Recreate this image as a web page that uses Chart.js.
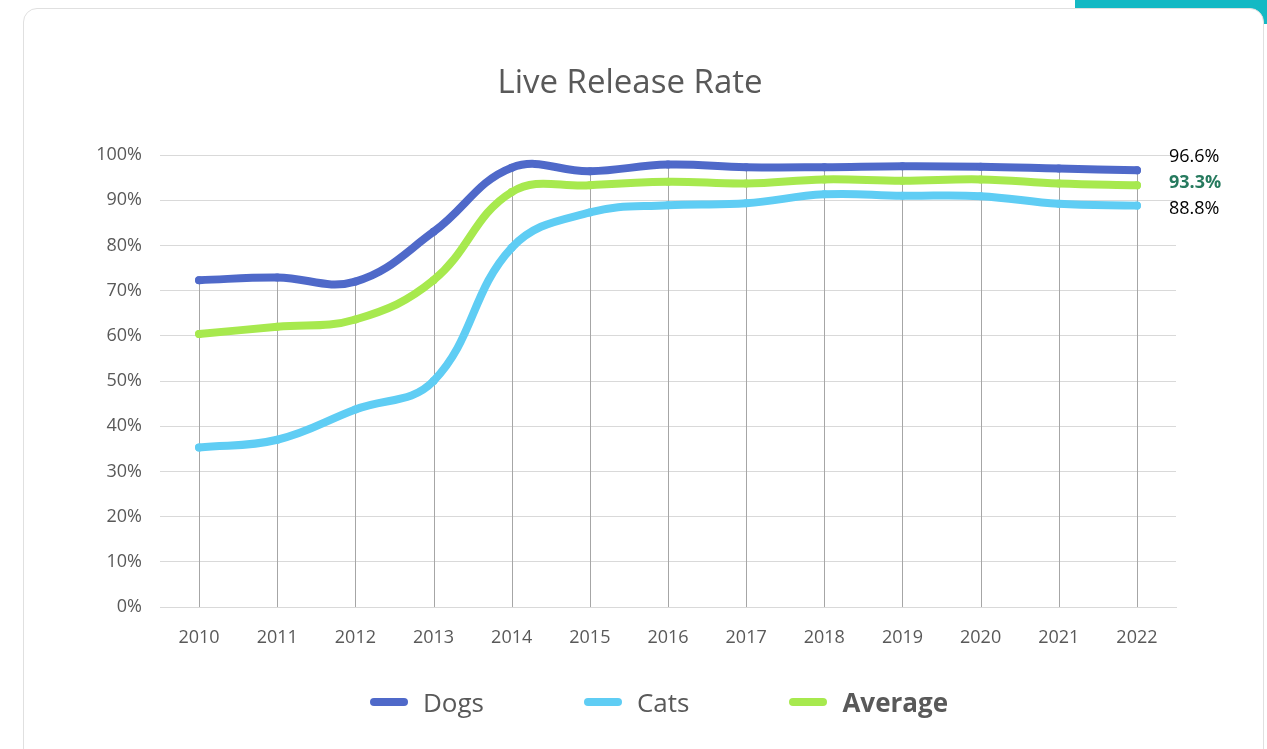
<!DOCTYPE html>
<html>
<head>
<meta charset="utf-8">
<script src="https://cdn.jsdelivr.net/npm/chart.js"></script>
<style>
  html, body { margin: 0; padding: 0; background: #fff; }
  body { width: 1267px; height: 749px; position: relative; overflow: hidden; font-family: "Open Sans", sans-serif; }
  #tab { position: absolute; left: 1075px; top: 0; width: 192px; height: 24px; background: #14b9c4; }
  #card { position: absolute; left: 23px; top: 8px; width: 1241px; height: 780px; background: #fff;
          border: 1.5px solid #e0e0e0; border-radius: 14px; box-sizing: border-box; }
  #wrap { position: absolute; left: 0; top: 0; width: 1267px; height: 749px; }
  #legend { position: absolute; left: 0; top: 684px; width: 1318px; display: flex; justify-content: center;
            gap: 100px; color: #595959; font-size: 26px; }
  .item { display: flex; align-items: center; }
  .sw { width: 38px; height: 8px; border-radius: 4px; margin-right: 15px; }
</style>
</head>
<body>
<div id="tab"></div>
<div id="card"></div>
<div id="wrap"><canvas id="chart"></canvas></div>
<div id="legend"></div>
<script>
// Datos
const years = ['2010', '2011', '2012', '2013', '2014', '2015', '2016', '2017', '2018', '2019', '2020', '2021', '2022'];
const dogs = [72.3, 72.9, 72.0, 83.0, 97.2, 96.4, 97.9, 97.3, 97.3, 97.5, 97.4, 97.0, 96.6];
const cats = [35.3, 37.0, 43.7, 50.0, 79.5, 87.3, 88.9, 89.3, 91.3, 91.0, 90.9, 89.2, 88.8];
const average = [60.4, 62.0, 63.6, 72.3, 91.8, 93.3, 94.1, 93.7, 94.6, 94.3, 94.6, 93.7, 93.3];
const yTicks = [0, 10, 20, 30, 40, 50, 60, 70, 80, 90, 100];

const series = [
    { label: 'Dogs', data: dogs, color: '#4f69c9', bold: false, endColor: '#000', endShift: -13 },
    { label: 'Cats', data: cats, color: '#5fcdf4', bold: false, endColor: '#000', endShift: 3 },
    { label: 'Average', data: average, color: '#a7e94e', bold: true, endColor: '#267a5e', endShift: -2 }
];

// Líneas verticales desde el punto más alto hasta el eje
const dropLines = {
    id: 'dropLines',
    beforeDatasetsDraw(chart) {
        const { ctx, scales: { x, y } } = chart;
        ctx.save();
        ctx.strokeStyle = '#a6a6a6';
        ctx.lineWidth = 1;
        years.forEach((yr, i) => {
            const top = Math.max(...series.map(s => s.data[i]));
            const px = Math.round(x.getPixelForValue(i)) + 0.5;
            ctx.beginPath();
            ctx.moveTo(px, y.getPixelForValue(top));
            ctx.lineTo(px, y.getPixelForValue(0));
            ctx.stroke();
        });
        ctx.restore();
    }
};

// Etiqueta del último valor de cada serie
const endLabels = {
    id: 'endLabels',
    afterDatasetsDraw(chart) {
        const { ctx } = chart;
        ctx.save();
        ctx.textBaseline = 'middle';
        ctx.textAlign = 'left';
        series.forEach((s, di) => {
            const meta = chart.getDatasetMeta(di);
            const pt = meta.data[meta.data.length - 1];
            const val = s.data[s.data.length - 1];
            ctx.font = (s.bold ? 'bold ' : '') + '18px "Open Sans"';
            ctx.fillStyle = s.endColor;
            ctx.fillText(val.toFixed(1) + '%', pt.x + 32, pt.y + s.endShift);
        });
        ctx.restore();
    }
};

const chart = new Chart(document.getElementById('chart'), {
    type: 'line',
    data: {
        labels: years,
        datasets: series.map(s => ({
            label: s.label,
            data: s.data,
            borderColor: s.color,
            backgroundColor: s.color,
            borderWidth: 8,
            borderCapStyle: 'round',
            borderJoinStyle: 'round',
            tension: 0.4,
            pointRadius: 4,
            pointBorderWidth: 0,
            pointBackgroundColor: s.color
        }))
    },
    options: {
        responsive: true,
        maintainAspectRatio: false,
        animation: false,
        layout: { padding: { left: 84, right: 91, top: 0, bottom: 0 } },
        plugins: {
            legend: { display: false },
            tooltip: { enabled: false },
            title: {
                display: true,
                text: 'Live Release Rate',
                color: '#595959',
                font: { family: 'Open Sans', size: 33, weight: 'normal' },
                padding: { top: 64, bottom: 51.4 }
            }
        },
        scales: {
            x: {
                offset: true,
                grid: { display: false },
                border: { color: '#d9d9d9' },
                ticks: { color: '#595959', font: { family: 'Open Sans', size: 18 }, padding: 12 },
                afterFit(scale) { scale.height = 142; }
            },
            y: {
                min: 0,
                max: 100,
                afterBuildTicks(scale) { scale.ticks = yTicks.map(v => ({ value: v })); },
                grid: { color: '#d9d9d9', drawTicks: false },
                border: { display: false },
                ticks: {
                    color: '#595959',
                    font: { family: 'Open Sans', size: 18 },
                    padding: 18,
                    callback: v => v + '%'
                },
                afterFit(scale) { scale.width = 76; }
            }
        }
    },
    plugins: [dropLines, endLabels]
});

// Leyenda en HTML (Average en negrita)
const legend = document.getElementById('legend');
series.forEach(s => {
    const item = document.createElement('div');
    item.className = 'item';
    const sw = document.createElement('span');
    sw.className = 'sw';
    sw.style.background = s.color;
    const txt = document.createElement('span');
    txt.textContent = s.label;
    if (s.bold) txt.style.fontWeight = 'bold';
    item.appendChild(sw);
    item.appendChild(txt);
    legend.appendChild(item);
});
</script>
</body>
</html>
